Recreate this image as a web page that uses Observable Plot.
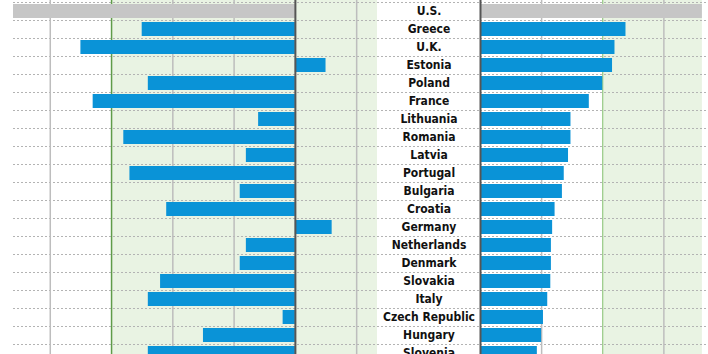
<!DOCTYPE html>
<html><head><meta charset="utf-8">
<script src="https://cdn.jsdelivr.net/npm/d3@7"></script>
<script src="https://cdn.jsdelivr.net/npm/@observablehq/plot@0.6"></script>
<style>
html,body{margin:0;padding:0;background:#fff;overflow:hidden;}
#chart{position:relative;width:708px;height:354px;display:flex;flex-direction:row;}
#chart svg{overflow:visible;display:block;flex:none;}
</style></head><body><div id="chart"></div>
<script>
// ---- data ----
const countries = ["U.S.","Greece","U.K.","Estonia","Poland","France","Lithuania","Romania","Latvia","Portugal","Bulgaria","Croatia","Germany","Netherlands","Denmark","Slovakia","Italy","Czech Republic","Hungary","Slovenia"];
// budget balance, % of GDP (left panel)
const budgetBalance = [-4.6,-2.5,-3.5,0.5,-2.4,-3.3,-0.6,-2.8,-0.8,-2.7,-0.9,-2.1,0.6,-0.8,-0.9,-2.2,-2.4,-0.2,-1.5,-2.4];
// defense spending, % of GDP (right panel)
const defenseSpending = [3.63,2.38,2.2,2.16,2.0,1.78,1.48,1.48,1.44,1.37,1.34,1.22,1.18,1.16,1.16,1.15,1.1,1.03,1.0,0.93];
const highlighted = "U.S.";
const leftTicks = [-4,-3,-2,-1,0,1];
const deficitLimit = -3;
const rightTicks = [0,1,2,3];
const spendingTarget = 2;

// ---- styling ----
const BLUE = "#0a93d7", GRAY = "#c6c6c6", SHADE = "#e9f3e3";
const GRID = "#bdbdbd", ZERO = "#555555";
const FONT = "'Liberation Sans Narrow','DejaVu Sans Condensed','Arial Narrow',sans-serif";

const rows = countries.map((c, i) => ({country: c, balance: budgetBalance[i], defense: defenseSpending[i]}));
const rowStep = 18;
const yOpts = {domain: countries, range: [2, 2 + rowStep * countries.length], paddingInner: 0.2, paddingOuter: 0.1, axis: null};
const dotted = () => [
  Plot.ruleY(countries, {y: d => d, dy: -rowStep / 2, stroke: "#b3b3b3", strokeWidth: 1, strokeDasharray: "2,2"}),
  Plot.ruleY(countries.slice(-1), {y: d => d, dy: rowStep / 2, stroke: "#b3b3b3", strokeWidth: 1, strokeDasharray: "2,2"})
];

const leftDomain = [-4.6, 1.34];
const left = Plot.plot({
  width: 377, height: 354, marginLeft: 13, marginRight: 0, marginTop: 0, marginBottom: 0,
  style: {fontFamily: FONT, background: "transparent"},
  x: {domain: leftDomain, axis: null},
  y: yOpts,
  marks: [
    Plot.rect([{}], {x1: deficitLimit, x2: leftDomain[1], fill: SHADE}),
    ...dotted(),
    Plot.ruleX(leftTicks.filter(t => t !== 0 && t !== deficitLimit), {stroke: GRID, strokeWidth: 1.5}),
    Plot.ruleX([deficitLimit], {stroke: "#5f9b49", strokeWidth: 1.5}),
    Plot.barX(rows.filter(d => d.country !== highlighted), {x: "balance", y: "country", fill: BLUE}),
    Plot.barX(rows.filter(d => d.country === highlighted), {x: "balance", y: "country", fill: GRAY}),
    Plot.ruleX([0], {stroke: ZERO, strokeWidth: 2})
  ]
});

const labels = Plot.plot({
  width: 103, height: 354, marginLeft: 0, marginRight: 0, marginTop: 0, marginBottom: 0,
  style: {fontFamily: FONT, background: "transparent"},
  y: yOpts,
  marks: [
    ...dotted(),
    Plot.text(countries, {y: d => d, frameAnchor: "middle", text: d => d, fontSize: 12, fontWeight: "bold", fill: "#111"})
  ]
});

const rightDomain = [0, 3.73];
const right = Plot.plot({
  width: 228, height: 354, marginLeft: 0, marginRight: 0, marginTop: 0, marginBottom: 0,
  style: {fontFamily: FONT, background: "transparent"},
  x: {domain: rightDomain, axis: null},
  y: yOpts,
  marks: [
    Plot.rect([{}], {x1: spendingTarget, x2: d3.max(defenseSpending), fill: SHADE}),
    ...dotted(),
    Plot.ruleX(rightTicks.filter(t => t !== 0 && t !== spendingTarget), {stroke: GRID, strokeWidth: 1.5}),
    Plot.ruleX([spendingTarget], {stroke: "#86c172", strokeWidth: 1}),
    Plot.barX(rows.filter(d => d.country !== highlighted), {x: "defense", y: "country", fill: BLUE}),
    Plot.barX(rows.filter(d => d.country === highlighted), {x: "defense", y: "country", fill: GRAY}),
    Plot.ruleX([0], {stroke: ZERO, strokeWidth: 2})
  ]
});

const chart = document.getElementById("chart");
chart.append(left, labels, right);
</script>
</body></html>
